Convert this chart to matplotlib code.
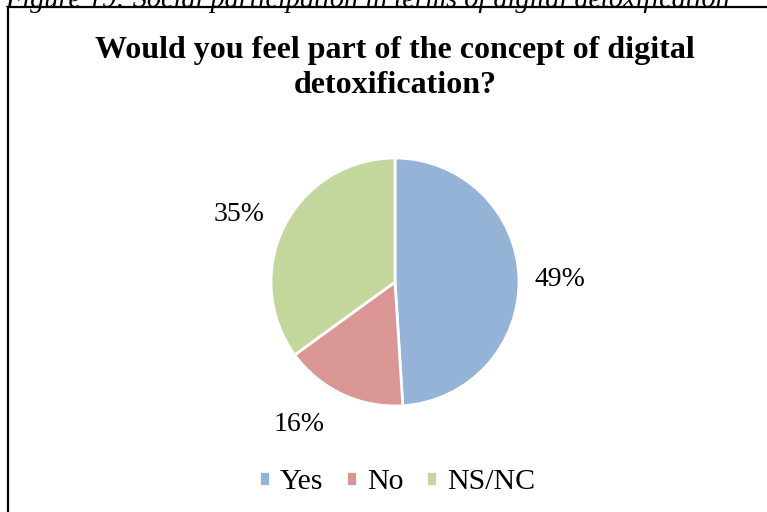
import matplotlib.pyplot as plt
from matplotlib.patches import Rectangle

# survey answers (percent)
answers = ['Yes', 'No', 'NS/NC']
shares = [49, 16, 35]
colors = ['#95B3D7', '#D99694', '#C3D69B']

caption = 'Figure 19: Social participation in terms of digital detoxification'
title = 'Would you feel part of the concept of digital\ndetoxification?'

# where the percentage labels sit, in pie radius units
label_xy = [(1.33, 0.02), (-0.77, -1.15), (-1.26, 0.545)]

plt.rcParams['font.family'] = ['Liberation Serif', 'DejaVu Serif']

fig = plt.figure(figsize=(7.67, 5.12), dpi=100)

# caption above the chart frame, partly cut off at the top
fig.text(5 / 767, 1 - 7 / 512, caption, fontsize=20.3, style='italic',
         ha='left', va='baseline')

# chart area border (runs off the right and bottom)
fig.patches.append(Rectangle((8 / 767, -0.1), 1.2, 1 - 7 / 512 + 0.1,
                             transform=fig.transFigure, fill=False,
                             edgecolor='black', linewidth=1.6))

fig.text(395 / 767, 1 - 68 / 512, title, fontsize=23, fontweight='bold',
         ha='center', va='center', linespacing=1.28)

ax = fig.add_axes([(395 - 124) / 767, (512 - 282 - 124) / 512,
                   248 / 767, 248 / 512])
wedges, texts, autotexts = ax.pie(
    shares, colors=colors, startangle=90, counterclock=False,
    autopct='%1.0f%%', pctdistance=1.36,
    wedgeprops=dict(edgecolor='white', linewidth=2),
    textprops=dict(fontsize=20))
ax.set_xlim(-1, 1)
ax.set_ylim(-1, 1)
ax.set_aspect('equal')
ax.axis('off')
for t, xy in zip(autotexts, label_xy):
    t.set_position(xy)
    t.set_clip_on(False)

fig.legend(wedges, answers, loc='center', bbox_to_anchor=(397 / 767, 1 - 482 / 512),
           ncol=3, frameon=False, fontsize=21.5, handlelength=0.37,
           handleheight=0.37, handletextpad=0.33, columnspacing=0.77)

fig.savefig('out.png', dpi=100)
